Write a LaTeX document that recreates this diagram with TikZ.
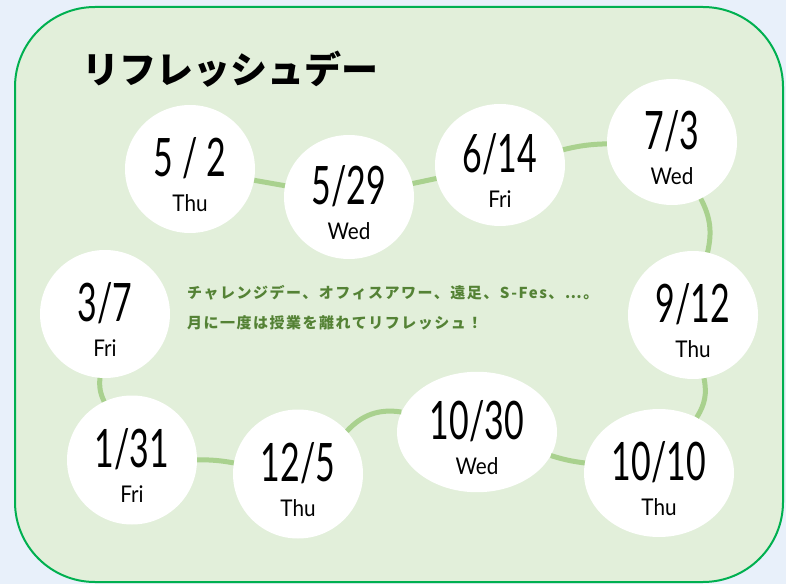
\documentclass[tikz,border=0pt]{standalone}
\usepackage{fontspec}
\usepackage{xcolor}
\usepackage{tikz}
\usetikzlibrary{shapes.geometric}
\newfontfamily\jpfont{Noto Sans CJK JP}
\newfontfamily\numfont[FakeStretch=0.64]{Lato}
\newfontfamily\dayfont[FakeStretch=0.9]{Lato}
\definecolor{pagebg}{RGB}{232,240,250}
\definecolor{panelgreen}{RGB}{226,239,218}
\definecolor{framegreen}{RGB}{0,176,80}
\definecolor{linkgreen}{RGB}{169,209,142}
\definecolor{notegreen}{RGB}{84,130,53}
\newcommand{\bignum}[1]{{\numfont\fontsize{53}{35}\selectfont\rule{0pt}{50pt}#1}}

\begin{document}
\begin{tikzpicture}[x=1pt,y=1pt,
    ball/.style={ellipse,fill=white,inner sep=0pt,minimum width=130pt,minimum height=128pt,
                 align=center,font=\dayfont\fontsize{23}{35}\selectfont},
    link/.style={linkgreen,line width=5pt},
    note/.style={anchor=west,inner sep=0pt,align=left,text=notegreen,
                 font=\jpfont\bfseries\fontsize{15}{30}\selectfont\addfontfeature{LetterSpace=10}}]
  \fill[pagebg] (0,0) rectangle (786,584);
  \draw[framegreen,line width=2pt,fill=panelgreen,rounded corners=80pt] (15,2) rectangle (783,577);
  \node[anchor=west,inner sep=0pt,font=\jpfont\bfseries\fontsize{37}{37}\selectfont] (title) at (82,515) {リフレッシュデー};

  \node[ball] (d1) at (190,415) {\bignum{5 / 2}\\Thu};
  \node[ball,minimum height=124pt] (d2) at (349,387) {\bignum{5/29}\\Wed};
  \node[ball,minimum height=122pt] (d3) at (500,419) {\bignum{6/14}\\Fri};
  \node[ball,minimum height=126pt] (d4) at (672,442) {\bignum{7/3}\\Wed};
  \node[ball] (d5) at (693,269) {\bignum{9/12}\\Thu};
  \node[ball,minimum width=150pt] (d6) at (659,111) {\bignum{10/10}\\Thu};
  \node[ball,minimum width=160pt,minimum height=120pt] (d7) at (477,152) {\bignum{10/30}\\Wed};
  \node[ball,minimum height=129pt] (d8) at (298,110) {\bignum{12/5}\\Thu};
  \node[ball,minimum height=129pt] (d9) at (132,124) {\bignum{1/31}\\Fri};
  \node[ball] (d10) at (105,270) {\bignum{3/7}\\Fri};

  \draw[link] (d1) -- (d2);
  \draw[link] (d2) -- (d3);
  \draw[link] (d3) to[bend left=6] (d4);
  \draw[link] (d4) to[bend left=20] (d5);
  \draw[link] (d5) to[bend left=22] (d6);
  \draw[link] (d6) to[bend left=5] (d7);
  \draw[link] (d7) to[bend right=28] (d8);
  \draw[link] (d8) to[bend right=5] (d9);
  \draw[link] (d9) to[bend left=15] (d10);

  \node[note] (note) at (187,276) {チャレンジデー、オフィスアワー、遠足、S-Fes、…。\\月に一度は授業を離れてリフレッシュ！};
\end{tikzpicture}
\end{document}
